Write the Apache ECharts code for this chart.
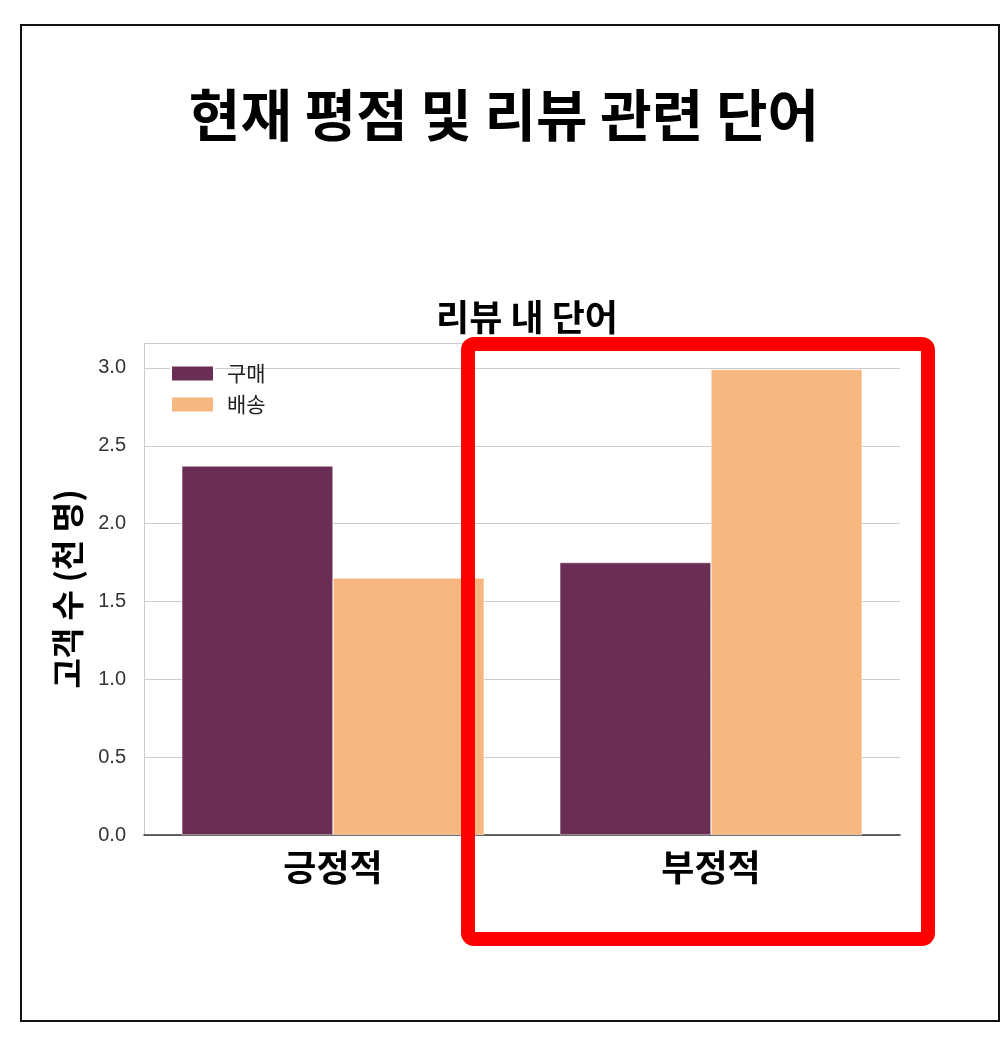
<!DOCTYPE html>
<html><head><meta charset="utf-8">
<script src="https://cdn.jsdelivr.net/npm/echarts@6/dist/echarts.min.js"></script>
<style>html,body{margin:0;padding:0;background:#fff;}#c{width:1008px;height:1056px;}</style>
</head><body><div id="c"></div>
<script>
const categories = ['긍정적', '부정적'];
const purchase = [2.37, 1.75];
const delivery = [1.65, 2.99];
const yTicks = [0, 0.5, 1.0, 1.5, 2.0, 2.5, 3.0];
const seriesNames = ['구매', '배송'];

const font = '"Noto Sans CJK KR", "Noto Sans", sans-serif';
const numFont = '"Liberation Sans Narrow", "Liberation Sans", Arial, sans-serif';
const chart = echarts.init(document.getElementById('c'));
chart.setOption({
  backgroundColor: '#fff',
  animation: false,
  title: [
    { text: '현재 평점 및 리뷰 관련 단어', left: 'center', top: 82,
      textStyle: { fontFamily: font, fontSize: 56, fontWeight: 'bold', color: '#000' } },
    { text: '리뷰 내 단어', left: 522, textAlign: 'center', top: 294,
      textStyle: { fontFamily: font, fontSize: 36, fontWeight: 'bold', color: '#000' } }
  ],
  legend: {
    data: seriesNames, orient: 'vertical', left: 165, top: 358,
    icon: 'rect', itemWidth: 43, itemHeight: 16, itemGap: 10,
    textStyle: { fontFamily: font, fontSize: 21, color: '#222', padding: [0, 0, 0, 8] }
  },
  grid: { left: 144, right: 108, top: 343, bottom: 221 },
  xAxis: {
    type: 'category', data: categories,
    axisLine: { lineStyle: { color: '#333', width: 1.5 } },
    axisTick: { show: false },
    axisLabel: { fontFamily: font, fontSize: 36, fontWeight: 'bold', color: '#000', margin: 14 }
  },
  yAxis: {
    type: 'value', min: 0, max: 3.16, interval: 0.5,
    name: '고객 수 (천 명)', nameLocation: 'middle', nameGap: 60, nameRotate: 90,
    nameTextStyle: { fontFamily: font, fontSize: 33, fontWeight: 'bold', color: '#000' },
    axisLine: { show: true, lineStyle: { color: '#ccc' } },
    axisTick: { show: false },
    splitLine: { lineStyle: { color: '#ccc', width: 1.2 } },
    axisLabel: { fontFamily: numFont, fontSize: 20, color: '#333', margin: 18,
      formatter: v => yTicks.includes(v) ? v.toFixed(1) : '' }
  },
  series: [
    { name: seriesNames[0], type: 'bar', data: purchase, barGap: '0%', barCategoryGap: '20%',
      itemStyle: { color: '#6a2d53', borderColor: '#fff', borderWidth: 0.5 } },
    { name: seriesNames[1], type: 'bar', data: delivery,
      itemStyle: { color: '#f6b781', borderColor: '#fff', borderWidth: 0.5 } }
  ],
  graphic: [
    { type: 'rect', shape: { x: 21, y: 25, width: 978, height: 996 },
      style: { fill: 'none', stroke: '#111', lineWidth: 2 }, z: 100 },
    { type: 'rect', shape: { x: 468, y: 344, width: 460, height: 595, r: 6 },
      style: { fill: 'none', stroke: '#ff0000', lineWidth: 14 }, z: 100 }
  ]
});
</script></body></html>
